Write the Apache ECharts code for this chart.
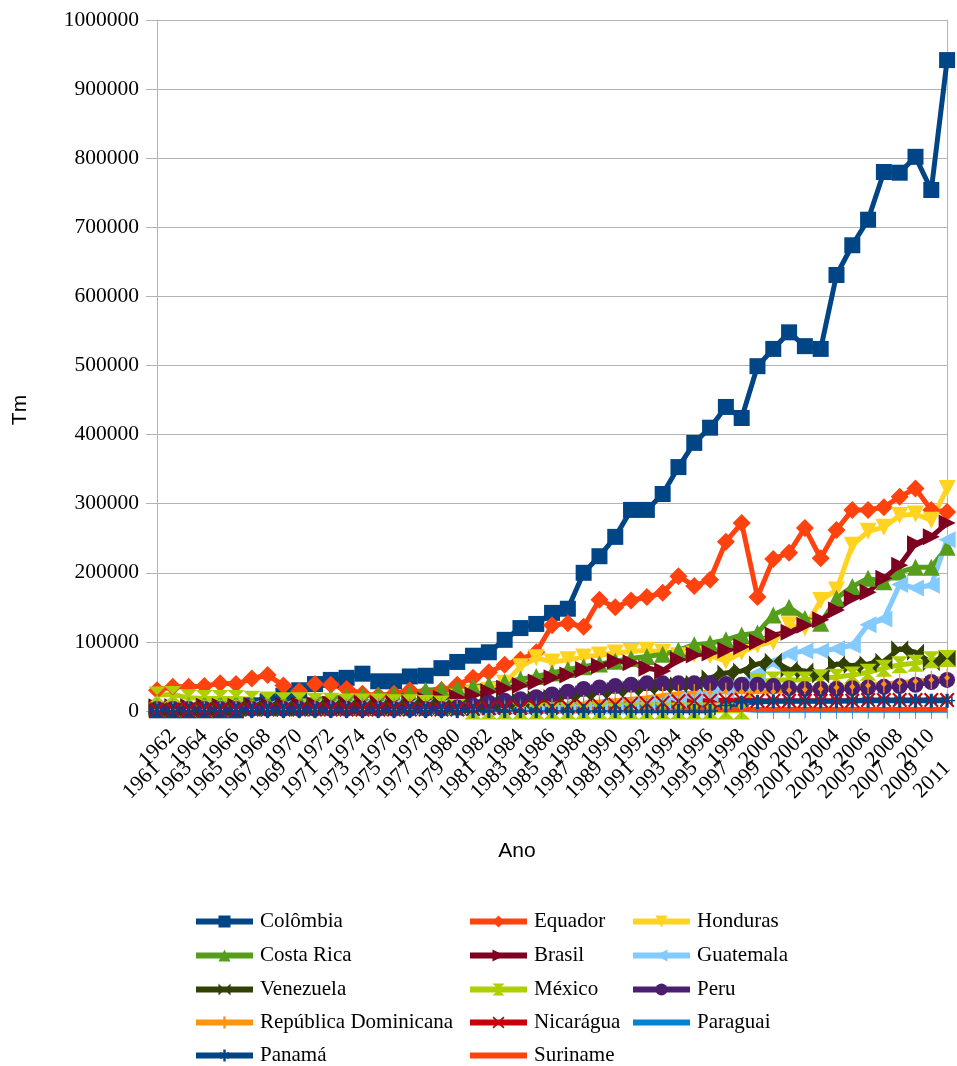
<!DOCTYPE html>
<html><head><meta charset="utf-8">
<script src="https://cdn.jsdelivr.net/npm/echarts@6/dist/echarts.min.js"></script>
<style>html,body{margin:0;padding:0;background:#fff}#c{width:957px;height:1066px}</style>
</head><body><div id="c"></div>
<script>
const years = [];
for (let y = 1961; y <= 2011; y++) years.push(String(y));

const colombia = [1000,1000,1000,1000,1000,1000,8000,14000,22000,30000,39000,45000,48000,54000,43000,43000,50000,51000,62000,71000,80000,85000,103000,120000,126000,142000,148000,200000,224000,252000,291000,291000,314000,353000,388000,410000,440000,424000,499000,524000,548000,528000,524000,631000,674000,711000,780000,779000,802000,754000,942000];
const equador = [30000,35000,35000,36000,40000,39000,47000,52000,37000,29000,39000,38000,32000,25000,22000,25000,30000,26000,30000,38000,48000,56000,67000,74000,85000,124000,127000,122000,161000,150000,160000,165000,171000,195000,181000,190000,245000,272000,165000,220000,229000,265000,221000,262000,291000,291000,295000,310000,322000,291000,288000];
const honduras = [1000,1000,1000,1000,1000,1000,1000,1000,1000,1000,2000,2000,2000,2000,2000,4000,6000,10000,15000,20000,25000,30000,40000,64000,77000,71000,74000,78000,81000,84000,86000,88000,85000,80000,82000,80000,72000,85000,95000,100000,125000,120000,160000,175000,240000,260000,266000,283000,285000,276000,322000];
const costaRica = [8000,9000,9000,10000,11000,11000,12000,13000,14000,15000,17000,19000,21000,22000,23000,24000,26000,30000,32000,33000,35000,38000,42000,46000,50000,55000,60000,64000,68000,72000,76000,79000,82000,88000,96000,98000,103000,110000,113000,139000,150000,134000,127000,163000,180000,192000,187000,201000,208000,208000,237000];
const brasil = [6000,6000,6000,7000,7000,7000,8000,8000,8000,9000,9000,10000,10000,11000,11000,12000,14000,16000,18000,20000,23000,28000,33000,37000,42000,48000,52000,60000,65000,72000,70000,62000,58000,74000,81000,84000,88000,93000,100000,110000,114000,124000,132000,146000,163000,172000,192000,211000,242000,252000,272000];
const guatemala = [3000,3000,3000,3000,3000,4000,4000,4000,4000,4000,5000,5000,5000,5000,5000,6000,6000,6000,6000,6000,7000,7000,7000,7000,8000,8000,8000,8000,8000,9000,10000,12000,14000,17000,20000,25000,30000,40000,55000,70000,83000,87000,87000,90000,95000,125000,133000,183000,178000,182000,248000];
const venezuela = [3000,3000,3000,3000,3000,4000,4000,4000,4000,4000,5000,5000,5000,5000,5000,5000,6000,6000,6000,6000,8000,10000,12000,15000,18000,20000,22000,25000,27000,30000,32000,34000,36000,38000,40000,48000,55000,58000,68000,72000,60000,58000,52000,68000,66000,68000,72000,90000,85000,70000,76000];
const mexico = [23000,24000,19000,18000,18000,18000,17000,16000,15000,15000,14000,14000,13000,13000,13000,12000,12000,11000,10000,5000,0,0,0,0,0,0,0,0,0,0,0,0,0,0,0,0,0,0,42000,45000,45000,45000,48000,49000,52000,56000,62000,67000,69000,74000,76000];
const peru = [3000,3000,3000,3000,3000,3000,3000,3000,3000,3000,3000,3000,3000,3000,3000,3000,3000,3000,3000,5000,8000,12000,15000,17000,20000,24000,28000,32000,34000,36000,38000,40000,40000,40000,40000,40000,39000,38000,38000,36000,33000,32000,32000,32000,33000,34000,35000,36000,38000,42000,45000];
const repDominicana = [2000,2000,2000,2000,2000,2000,2000,2000,2000,2000,2000,2000,2000,2000,2000,2000,2000,2000,2000,2000,2000,2000,2000,2000,2000,5000,8000,10000,13000,15000,17000,19000,22000,25000,26000,27000,28000,28000,28000,28000,30000,31000,32000,34000,35000,37000,39000,41000,43000,45000,48000];
const nicaragua = [2000,2000,2000,2000,2000,2000,2000,2000,2000,2000,2000,2000,2000,2000,2000,2000,2000,2000,2000,2000,3000,4000,5000,5000,6000,6000,7000,7000,8000,9000,10000,11000,12000,14000,15000,15000,16000,16000,15000,15000,15000,15000,15000,15000,15000,16000,16000,16000,16000,16000,16000];
const paraguai = [5000,5000,5000,5000,5000,5000,5000,5000,5000,5000,5000,5000,5000,6000,6000,6000,6000,6000,6000,6000,6000,6000,6000,6000,6000,6000,6000,6000,6000,6000,6000,6000,6000,6000,6000,6000,5000,2000,1000,1000,1000,1000,1000,1000,1000,1000,1000,1000,1000,1000,1000];
const panama = [0,0,0,0,0,0,0,0,0,0,0,0,0,0,0,0,0,0,0,0,0,0,0,0,0,0,0,0,0,0,0,0,0,0,0,0,8000,12000,13000,14000,14000,14000,14000,14000,15000,15000,15000,15000,15000,15000,15000];
const suriname = [3000,3000,3000,3000,3000,3000,3000,3000,3000,3000,3000,3000,2000,2000,3000,3000,4000,4000,5000,6000,7000,8000,9000,10000,10000,9000,8000,6000,4000,3000,2000,2000,2000,2000,2000,2000,2000,2000,2000,2000,2000,2000,2000,2000,2000,2000,2000,2000,2000,2000,2000];
const yTicks = [0,100000,200000,300000,400000,500000,600000,700000,800000,900000,1000000];

const SERIF = 'Liberation Serif';
const BAR = 'path://M0,0L3,0L3,18L0,18Z';
const defs = [
  ['Colômbia', colombia, '#004586', 'rect', 16, 0],
  ['Equador', equador, '#ff420e', 'diamond', 18, 0],
  ['Honduras', honduras, '#ffd320', 'triangle', 17, 180],
  ['Costa Rica', costaRica, '#579d1c', 'triangle', 17, 0],
  ['Brasil', brasil, '#7e0021', 'triangle', 17, -90],
  ['Guatemala', guatemala, '#83caff', 'triangle', 17, 90],
  ['Venezuela', venezuela, '#314004', 'path://M0,0L10,10L0,20ZM20,0L10,10L20,20Z', 17, 0],
  ['México', mexico, '#aecf00', 'path://M0,0L20,0L10,10ZM0,20L20,20L10,10Z', 17, 0],
  ['Peru', peru, '#4b1f6f', 'circle', 16, 0],
  ['República Dominicana', repDominicana, '#ff950e', 'path://M4,0L6,0L6,7L10,10L6,13L6,20L4,20L4,13L0,10L4,7Z', [12,18], 0],
  ['Nicarágua', nicaragua, '#c5000b', 'path://M0,2L2,0L10,8L18,0L20,2L12,10L20,18L18,20L10,12L2,20L0,18L8,10Z', 15, 0],
  ['Paraguai', paraguai, '#0084d1', BAR, [3,18], 0],
  ['Panamá', panama, '#004586', 'path://M0,9L3,9L3,4L5,4L5,9L8,9L8,0L12,0L12,9L15,9L15,4L17,4L17,9L20,9L20,11L17,11L17,16L15,16L15,11L12,11L12,20L8,20L8,11L5,11L5,16L3,16L3,11L0,11Z', [16,14], 0],
  ['Suriname', suriname, '#ff420e', 'none', 0, 0]
];

const series = defs.map(d => ({
  name: d[0], type: 'line', data: d[1], xAxisIndex: 0, yAxisIndex: 0,
  symbol: d[3], symbolSize: d[4], symbolRotate: d[5], symbolKeepAspect: true, showAllSymbol: true,
  itemStyle: {color: d[2]}, lineStyle: {color: d[2], width: 5},
  animation: false, emphasis: {disabled: true}
}));

// legend grid: [name, column, row]
const legendPlace = [
  ['Colômbia',0,0],['Equador',1,0],['Honduras',2,0],
  ['Costa Rica',0,1],['Brasil',1,1],['Guatemala',2,1],
  ['Venezuela',0,2],['México',1,2],['Peru',2,2],
  ['República Dominicana',0,3],['Nicarágua',1,3],['Paraguai',2,3],
  ['Panamá',0,4],['Suriname',1,4]
];
const colLeft = [193, 467, 630];
const rowTop = [911, 945, 979, 1012, 1045];
function legendItem(name) {
  if (name === 'Suriname' || name === 'Paraguai') return {name: name, itemStyle: {opacity: 0}};
  return name;
}
const legends = legendPlace.map(p => ({
  left: colLeft[p[1]], top: rowTop[p[2]], padding: 0, orient: 'horizontal',
  itemWidth: 57, itemHeight: 15, itemGap: 0, selectedMode: false,
  lineStyle: {width: 6},
  data: [legendItem(p[0])],
  textStyle: {fontFamily: SERIF, fontSize: 21, color: '#000', padding: [0,0,0,2]}
}));

const labelStyle = {fontFamily: SERIF, fontSize: 21.5, color: '#000'};
const chart = echarts.init(document.getElementById('c'), null, {renderer: 'canvas'});
chart.setOption({
  backgroundColor: '#fff',
  animation: false,
  grid: {left: 157, right: 4, top: 20, bottom: 355, containLabel: false},
  legend: legends,
  graphic: [
    {type: 'text', x: 20, y: 410, rotation: Math.PI / 2,
     style: {text: 'Tm', font: '21px "Liberation Sans"', fill: '#000', align: 'center', verticalAlign: 'middle'}},
    {type: 'text', x: 517, y: 851,
     style: {text: 'Ano', font: '21px "Liberation Sans"', fill: '#000', align: 'center', verticalAlign: 'middle'}}
  ],
  xAxis: [
    {type: 'category', data: years, boundaryGap: false, position: 'bottom',
     axisLine: {lineStyle: {color: '#b3b3b3', width: 1}},
     axisTick: {show: true, interval: 0, length: 7, lineStyle: {color: '#b3b3b3'}},
     axisLabel: Object.assign({rotate: 45, margin: 54, interval: (i) => i % 2 === 0}, labelStyle),
     splitLine: {show: false}},
    {type: 'category', data: years, boundaryGap: false, position: 'bottom', offset: 0,
     axisLine: {show: false}, axisTick: {show: false},
     axisLabel: Object.assign({rotate: 45, margin: 22, interval: (i) => i % 2 === 1}, labelStyle),
     splitLine: {show: false}}
  ],
  yAxis: [
    {type: 'value', min: 0, max: 1000000, interval: 100000,
     axisLine: {show: true, lineStyle: {color: '#b3b3b3'}},
     axisTick: {show: true, length: 11, lineStyle: {color: '#b3b3b3'}},
     axisLabel: Object.assign({margin: 18, formatter: (v) => yTicks.includes(v) ? String(v) : ''}, labelStyle),
     splitLine: {show: true, lineStyle: {color: '#b3b3b3', width: 1}}},
    {type: 'value', min: 0, max: 1000000, interval: 100000, position: 'right',
     axisLine: {show: true, lineStyle: {color: '#b3b3b3'}}, axisTick: {show: false},
     axisLabel: {show: false}, splitLine: {show: false}}
  ],
  series: series
});
</script></body></html>
